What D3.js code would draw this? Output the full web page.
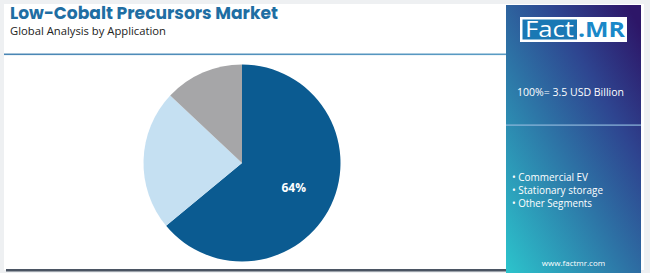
<!DOCTYPE html>
<html><head><meta charset="utf-8">
<script src="https://cdn.jsdelivr.net/npm/d3@7"></script>
<style>
html,body{margin:0;padding:0;background:#eef0f2;}
svg{display:block;}
</style></head>
<body>
<svg id="chart" width="650" height="273"></svg>
<script>
const categories = ["Commercial EV", "Stationary storage", "Other Segments"];
const values = [64, 23, 13];
const colors = ["#0b5b91", "#c5e0f2", "#a6a6a8"];
const labels = ["64%", "", ""];
const legendWidths = [76, 91, 80];
const title = "Low-Cobalt Precursors Market";
const subtitle = "Global Analysis by Application";
const totalLabel = "100%= 3.5 USD Billion";

const svg = d3.select("#chart");
const defs = svg.append("defs");
const g1 = defs.append("linearGradient").attr("id","panel").attr("x1","0").attr("y1","1").attr("x2","0.9").attr("y2","0");
g1.append("stop").attr("offset","0").attr("stop-color","#2cc4cc");
g1.append("stop").attr("offset","0.45").attr("stop-color","#2d74a6");
g1.append("stop").attr("offset","0.72").attr("stop-color","#2e4590");
g1.append("stop").attr("offset","1").attr("stop-color","#2d1668");
const g2 = defs.append("linearGradient").attr("id","hline").attr("x1","0").attr("x2","1");
g2.append("stop").attr("offset","0").attr("stop-color","#4a86b4");
g2.append("stop").attr("offset","1").attr("stop-color","#5a9cc4");

// white main area
svg.append("rect").attr("x",4).attr("y",4).attr("width",640).attr("height",266).attr("fill","#ffffff");

// title
svg.append("text").attr("x",10).attr("y",19.3).text(title)
  .attr("font-family","Poppins, 'Open Sans', sans-serif").attr("font-weight","bold")
  .attr("font-size",17.5).attr("fill","#1f6ea3").attr("textLength",268).attr("lengthAdjust","spacingAndGlyphs");
svg.append("text").attr("x",10).attr("y",35).text(subtitle)
  .attr("font-family","'Open Sans', sans-serif").attr("font-size",10.5).attr("fill","#222222")
  .attr("textLength",156).attr("lengthAdjust","spacingAndGlyphs");

// header rule
svg.append("rect").attr("x",4).attr("y",53.5).attr("width",503).attr("height",1.6).attr("fill","url(#hline)");
// bottom bar
svg.append("rect").attr("x",6).attr("y",269).attr("width",501).attr("height",2.5).attr("fill","#4b5563");

// pie
const cx = 242, cy = 163, r = 98.5;
const pie = d3.pie().sort(null).value(d => d)(values);
const arc = d3.arc().innerRadius(0).outerRadius(r);
const pg = svg.append("g").attr("transform",`translate(${cx},${cy})`);
pg.selectAll("path").data(pie).join("path").attr("d",arc).attr("fill",(d,i)=>colors[i]);
const labelArc = d3.arc().innerRadius(r*0.58).outerRadius(r*0.58);
pg.selectAll("text").data(pie).join("text")
  .attr("transform",d=>{const c=labelArc.centroid(d);return `translate(${c[0]},${c[1]})`;})
  .attr("text-anchor","middle").attr("dy","0.35em")
  .attr("font-family","'Open Sans', sans-serif").attr("font-weight","bold").attr("font-size",12)
  .attr("fill","#ffffff").text((d,i)=>labels[i]);

// right panel
const px = 506, pw = 135;
svg.append("rect").attr("x",px).attr("y",5).attr("width",pw).attr("height",268).attr("fill","url(#panel)");
// logo
svg.append("rect").attr("x",520).attr("y",17).attr("width",107).attr("height",25).attr("fill","#ffffff");
svg.append("rect").attr("x",522.5).attr("y",19.5).attr("width",54.5).attr("height",20).attr("fill","#1a78b4");
svg.append("text").attr("x",525).attr("y",37).text("Fact")
  .attr("font-family","'Open Sans', sans-serif").attr("font-size",21).attr("fill","#ffffff")
  .attr("textLength",49).attr("lengthAdjust","spacingAndGlyphs");
svg.append("text").attr("x",578).attr("y",37).text(".MR")
  .attr("font-family","'Open Sans', sans-serif").attr("font-weight","bold").attr("font-size",21).attr("fill","#1a88c8")
  .attr("textLength",47).attr("lengthAdjust","spacingAndGlyphs");

svg.append("text").attr("x",517).attr("y",95.5).text(totalLabel)
  .attr("font-family","'Open Sans', sans-serif").attr("font-size",11).attr("fill","#ffffff")
  .attr("textLength",107).attr("lengthAdjust","spacingAndGlyphs");
svg.append("rect").attr("x",px).attr("y",124.5).attr("width",pw).attr("height",1.2).attr("fill","#8fb8dc");

const leg = svg.append("g");
leg.selectAll("text").data(categories).join("text")
  .attr("x",512).attr("y",(d,i)=>180.5+i*13.3)
  .attr("font-family","'Open Sans', sans-serif").attr("font-size",10).attr("fill","#ffffff")
  .attr("textLength",(d,i)=>legendWidths[i]).attr("lengthAdjust","spacingAndGlyphs")
  .text(d=>"• "+d);

svg.append("text").attr("x",573.5).attr("y",266).attr("text-anchor","middle").text("www.factmr.com")
  .attr("font-family","'Open Sans', sans-serif").attr("font-size",8).attr("fill","#ffffff");
</script>
</body></html>
